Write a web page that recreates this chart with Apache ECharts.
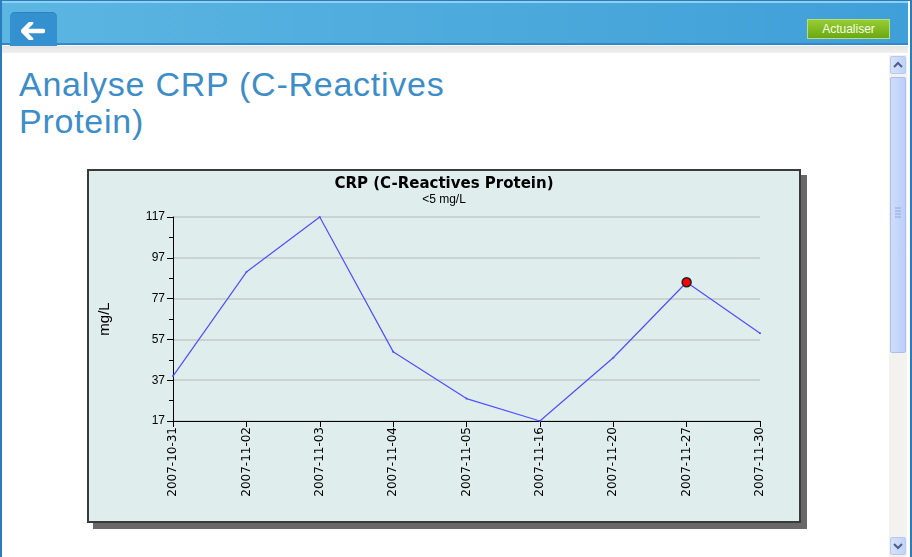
<!DOCTYPE html>
<html>
<head>
<meta charset="utf-8">
<script src="https://cdn.jsdelivr.net/npm/echarts@6/dist/echarts.min.js"></script>
<style>
  html, body { margin:0; padding:0; width:912px; height:557px; overflow:hidden; background:#fff; font-family:"Liberation Sans", Arial, sans-serif; }
  #frame { position:absolute; left:0; top:0; height:557px; border-left:2px solid #2b7cbd; border-right:2px solid #2b7cbd; border-top:1px solid #2b7cbd; box-sizing:border-box; width:912px; }
  #header { position:absolute; left:2px; top:1px; width:906px; height:44px; background:linear-gradient(to right,#5cb6e2,#4aa8db 60%,#3f9fd8); border-top:2px solid #8fd0f0; border-bottom:2px solid #2f88c8; box-sizing:border-box; }
  #back { position:absolute; left:10px; top:12px; width:47px; height:34px; background:#3590d0; border-radius:5px 5px 0 0; border-top:1px solid #2f80c0; }
  #back svg { position:absolute; left:11px; top:9px; }
  #strip { position:absolute; left:2px; top:46px; width:906px; height:7px; background:linear-gradient(#e4e4e4,#f0f0f0); }
  #btn { position:absolute; left:807px; top:19px; width:83px; height:20px; background:linear-gradient(#98cc33,#6aa812); border:1px solid #b8dc80; box-sizing:border-box; color:#f4ffe8; font-size:12px; line-height:18px; text-align:center; }
  #title { position:absolute; left:19px; top:66px; width:470px; color:#3c8dc8; font-size:34px; letter-spacing:0.75px; line-height:37px; font-family:"Liberation Sans", Arial, sans-serif; }
  #scroll { position:absolute; left:889px; top:55px; width:18px; height:502px; background:#f3f2ee; }
  .sbtn { position:absolute; left:1px; width:16px; height:18px; background:linear-gradient(to right,#d6e2fb,#c2d3fa); border:1px solid #b6c9f2; border-radius:2px; box-sizing:border-box; }
  #thumb { position:absolute; left:1px; top:22px; width:16px; height:276px; background:linear-gradient(to right,#cfdcfb,#bccffa); border:1px solid #a9bff0; border-radius:2px; box-sizing:border-box; }
  #chartbox { position:absolute; left:87px; top:169px; width:710px; height:350px; background:#e0eded; border:2px solid #3a3a3a; box-shadow:6px 6px 0 #686868; }
  #chart { width:710px; height:350px; }
</style>
</head>
<body>
<div id="frame"></div>
<div id="header">
</div>
<div id="back"><svg width="24" height="18" viewBox="0 0 24 18"><path d="M10 1 L2 9 L10 17 M3 9 L22 9" stroke="#fff" stroke-width="4.5" fill="none" stroke-linecap="round" stroke-linejoin="round"/></svg></div>
<div id="btn">Actualiser</div>
<div id="strip"></div>
<div id="title">Analyse CRP (C-Reactives Protein)</div>
<div id="scroll">
  <div class="sbtn" style="top:1px"><svg width="14" height="16" viewBox="0 0 14 16"><path d="M3 10 L7 6 L11 10" stroke="#4d6185" stroke-width="2" fill="none"/></svg></div>
  <div id="thumb"><svg width="14" height="274" viewBox="0 0 14 274"><path d="M4 130 H10 M4 133 H10 M4 136 H10 M4 139 H10" stroke="#8fa8dc" stroke-width="1"/></svg></div>
  <div class="sbtn" style="top:482px"><svg width="14" height="16" viewBox="0 0 14 16"><path d="M3 6 L7 10 L11 6" stroke="#4d6185" stroke-width="2" fill="none"/></svg></div>
</div>
<div id="chartbox"><div id="chart"></div></div>
<script>
const categories = ["2007-10-31","2007-11-02","2007-11-03","2007-11-04","2007-11-05","2007-11-16","2007-11-20","2007-11-27","2007-11-30"];
const crpValues = [39, 90, 117, 51, 28, 17, 48, 85, 60];
const highlightIndex = 7;
const yMin = 17, yMax = 117, yStep = 20;
const chartTitle = "CRP (C-Reactives Protein)";
const chartSubtitle = "<5 mg/L";
const yName = "mg/L";

const chart = echarts.init(document.getElementById('chart'), null, {renderer:'canvas'});
const seriesData = crpValues.map((v, i) => i === highlightIndex
  ? { value: v, symbol: 'circle', symbolSize: 9, itemStyle: { color: '#ff0000', borderColor: '#222', borderWidth: 1.5 } }
  : { value: v });
chart.setOption({
  animation: false,
  backgroundColor: 'transparent',
  title: {
    text: chartTitle, subtext: chartSubtitle, left: 'center', top: 1, itemGap: 2,
    textStyle: { fontFamily: 'DejaVu Sans', fontWeight: 'bold', fontSize: 15, color: '#000' },
    subtextStyle: { fontFamily: 'Liberation Sans', fontSize: 12, color: '#000' }
  },
  grid: { left: 84, right: 39, top: 46, bottom: 100, containLabel: false },
  xAxis: {
    type: 'category', data: categories, boundaryGap: false,
    axisLine: { lineStyle: { color: '#000', width: 1 } },
    axisTick: { show: true, length: 6, inside: false, lineStyle: { color: '#000' } },
    axisLabel: { rotate: 90, fontSize: 12, color: '#000', fontFamily: 'DejaVu Sans', margin: 6, interval: 0 },
    splitLine: { show: false }
  },
  yAxis: {
    type: 'value', min: yMin, max: yMax, interval: yStep,
    name: yName, nameLocation: 'middle', nameRotate: 90, nameGap: 61,
    nameTextStyle: { fontSize: 15, color: '#000', fontFamily: 'Liberation Sans' },
    axisLine: { show: true, lineStyle: { color: '#000', width: 1 } },
    axisTick: { show: true, length: 6, lineStyle: { color: '#000' } },
    minorTick: { show: true, splitNumber: 2, length: 4, lineStyle: { color: '#000' } },
    axisLabel: { fontSize: 12, color: '#000', fontFamily: 'Liberation Sans', margin: 8 },
    splitLine: { show: true, lineStyle: { color: '#c4c8c8', width: 1.5 } }
  },
  series: [{
    type: 'line', data: seriesData, symbol: 'circle', symbolSize: 2, showSymbol: true,
    lineStyle: { color: '#4f4fff', width: 1.2 }, itemStyle: { color: '#4f4fff' }
  }]
});
</script>
</body>
</html>
